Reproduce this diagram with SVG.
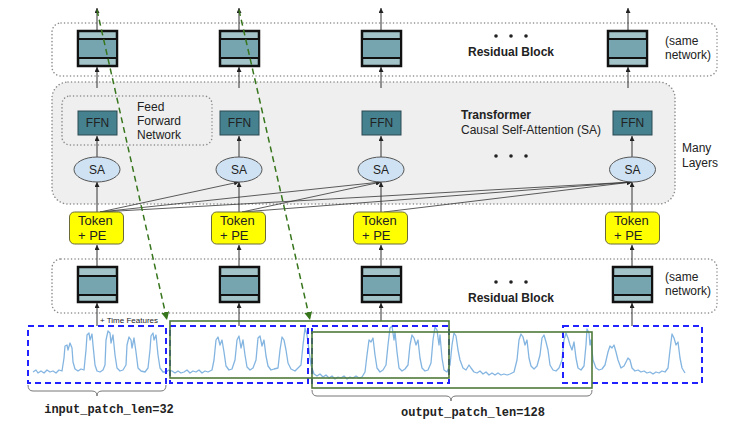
<svg xmlns="http://www.w3.org/2000/svg" width="752" height="425" viewBox="0 0 752 425">
<defs>
<style>
text{font-family:"Liberation Sans",Arial,sans-serif;fill:#222;}
.dot{fill:none;stroke:#8a8a8a;stroke-width:1.5;stroke-dasharray:0.1,3.4;stroke-linecap:round;}
.rl{fill:#a2c4c9;stroke:#111;stroke-width:2.5;}
.rm{fill:#76a5af;stroke:#111;stroke-width:2;}
.ffn{fill:#45818e;stroke:#2a4a52;stroke-width:1;}
.sa{fill:#cfe2f3;stroke:#555;stroke-width:1;}
.tok{fill:#ffff00;stroke:#6b6b3a;stroke-width:1;}
.ar{stroke:#333;stroke-width:1;fill:none;marker-end:url(#ah);}
.at{stroke:#333;stroke-width:0.8;fill:none;marker-end:url(#ah);}
.gd{stroke:#38761d;stroke-width:1.5;stroke-dasharray:6,4;fill:none;marker-end:url(#gh);}
.bp{fill:none;stroke:#2222ff;stroke-width:2;stroke-dasharray:6,4;}
.gr{fill:none;stroke:#4e7a3a;stroke-width:1.6;}
.br{fill:none;stroke:#777;stroke-width:1;}
.t12{font-size:12px;}
.b12{font-size:12px;font-weight:bold;}
.mono{font-family:"Liberation Mono","Courier New",monospace;font-size:12px;font-weight:bold;fill:#222;}
.dots{fill:#222;}
</style>
<marker id="ah" viewBox="0 0 6 6" refX="6" refY="3" markerWidth="5" markerHeight="5" markerUnits="userSpaceOnUse" orient="auto"><path d="M0,0 L6,3 L0,6 Z" fill="#222"/></marker>
<marker id="gh" viewBox="0 0 8 8" refX="8" refY="4" markerWidth="8" markerHeight="8" markerUnits="userSpaceOnUse" orient="auto"><path d="M0,0 L8,4 L0,8 Z" fill="#38761d"/></marker>
</defs>
<rect width="752" height="425" fill="#ffffff"/>

<g id="containers">
<rect id="top-residual-group" class="dot" x="52" y="23" width="665" height="53" rx="9"/>
<rect id="transformer-group" x="52" y="82" width="623" height="122" rx="16" fill="#efefef" stroke="#8a8a8a" stroke-width="1.5" stroke-dasharray="0.1,3.4" stroke-linecap="round"/>
<rect id="ffn-group" class="dot" x="62" y="96" width="150" height="49" rx="8"/>
<rect id="bottom-residual-group" class="dot" x="52" y="259" width="665" height="54" rx="9"/>
</g>

<g id="labels">
<circle class="dots" cx="496" cy="36" r="1.8"/><circle class="dots" cx="511" cy="36" r="1.8"/><circle class="dots" cx="526" cy="36" r="1.8"/>
<text class="b12" x="511" y="56" text-anchor="middle">Residual Block</text>
<text class="t12" x="665" y="45">(same</text>
<text class="t12" x="665" y="59">network)</text>
<text class="t12" x="137" y="111">Feed</text>
<text class="t12" x="137" y="125">Forward</text>
<text class="t12" x="137" y="139">Network</text>
<text class="b12" x="461" y="119">Transformer</text>
<text class="t12" x="461" y="134">Causal Self-Attention (SA)</text>
<circle class="dots" cx="496" cy="156" r="1.8"/><circle class="dots" cx="511" cy="156" r="1.8"/><circle class="dots" cx="526" cy="156" r="1.8"/>
<text class="t12" x="682" y="152">Many</text>
<text class="t12" x="682" y="167">Layers</text>
<circle class="dots" cx="496" cy="282" r="1.8"/><circle class="dots" cx="511" cy="282" r="1.8"/><circle class="dots" cx="526" cy="282" r="1.8"/>
<text class="b12" x="511" y="302" text-anchor="middle">Residual Block</text>
<text class="t12" x="665" y="281">(same</text>
<text class="t12" x="665" y="295">network)</text>
<text x="100" y="323" font-size="8" fill="#444">+ Time Features</text>
</g>

<g id="connectors">
<path class="ar" d="M97,31 L97,8"/>
<path class="ar" d="M239,31 L239,8"/>
<path class="ar" d="M381,31 L381,8"/>
<path class="ar" d="M628,31 L628,8"/>
<path class="ar" d="M97,88 L97,67"/>
<path class="ar" d="M239,88 L239,67"/>
<path class="ar" d="M381,88 L381,67"/>
<path class="ar" d="M628,88 L628,67"/>
<path class="ar" d="M97,157 L97,136"/>
<path class="ar" d="M239,157 L239,136"/>
<path class="ar" d="M381,157 L381,136"/>
<path class="ar" d="M632,157 L632,136"/>
<path class="ar" d="M97,212 L97,182"/>
<path class="ar" d="M239,212 L239,182"/>
<path class="ar" d="M381,212 L381,182"/>
<path class="ar" d="M632,212 L632,182"/>
<path class="at" d="M100,212 L239,182"/>
<path class="at" d="M100,212 L381,182"/>
<path class="at" d="M100,212 L632,182"/>
<path class="at" d="M242,212 L381,182"/>
<path class="at" d="M242,212 L632,182"/>
<path class="at" d="M384,212 L632,182"/>
<path class="ar" d="M97,267 L97,245"/>
<path class="ar" d="M239,267 L239,245"/>
<path class="ar" d="M381,267 L381,245"/>
<path class="ar" d="M632,267 L632,245"/>
<path class="ar" d="M97,326 L97,303"/>
<path class="ar" d="M239,326 L239,303"/>
<path class="ar" d="M381,321 L381,303"/>
<path class="ar" d="M632,326 L632,303"/>
</g>

<g id="top-residual-blocks">
<g id="top-res-1"><rect class="rl" x="78" y="31" width="39" height="35"/><rect class="rm" x="78" y="39" width="39" height="19"/></g>
<g id="top-res-2"><rect class="rl" x="220" y="31" width="39" height="35"/><rect class="rm" x="220" y="39" width="39" height="19"/></g>
<g id="top-res-3"><rect class="rl" x="362" y="31" width="39" height="35"/><rect class="rm" x="362" y="39" width="39" height="19"/></g>
<g id="top-res-4"><rect class="rl" x="608" y="31" width="39" height="35"/><rect class="rm" x="608" y="39" width="39" height="19"/></g>
</g>

<g id="ffn-nodes">
<g id="ffn-1"><rect class="ffn" x="78" y="111" width="39" height="24"/><text class="t12" x="97.5" y="127" text-anchor="middle">FFN</text></g>
<g id="ffn-2"><rect class="ffn" x="220" y="111" width="39" height="24"/><text class="t12" x="239.5" y="127" text-anchor="middle">FFN</text></g>
<g id="ffn-3"><rect class="ffn" x="362" y="111" width="39" height="24"/><text class="t12" x="381.5" y="127" text-anchor="middle">FFN</text></g>
<g id="ffn-4"><rect class="ffn" x="613" y="111" width="39" height="24"/><text class="t12" x="632.5" y="127" text-anchor="middle">FFN</text></g>
</g>

<g id="sa-nodes">
<g id="sa-1"><ellipse class="sa" cx="97" cy="169.5" rx="23" ry="12.5"/><text class="t12" x="97" y="174" text-anchor="middle">SA</text></g>
<g id="sa-2"><ellipse class="sa" cx="239" cy="169.5" rx="23" ry="12.5"/><text class="t12" x="239" y="174" text-anchor="middle">SA</text></g>
<g id="sa-3"><ellipse class="sa" cx="381" cy="169.5" rx="23" ry="12.5"/><text class="t12" x="381" y="174" text-anchor="middle">SA</text></g>
<g id="sa-4"><ellipse class="sa" cx="632.5" cy="169.5" rx="23" ry="12.5"/><text class="t12" x="632.5" y="174" text-anchor="middle">SA</text></g>
</g>

<g id="token-nodes">
<g id="token-1"><rect class="tok" x="69.5" y="212" width="54" height="32" rx="5"/><text x="78" y="225" font-size="13">Token</text><text x="78" y="240" font-size="13">+ PE</text></g>
<g id="token-2"><rect class="tok" x="211.5" y="212" width="54" height="32" rx="5"/><text x="220" y="225" font-size="13">Token</text><text x="220" y="240" font-size="13">+ PE</text></g>
<g id="token-3"><rect class="tok" x="353.5" y="212" width="54" height="32" rx="5"/><text x="362" y="225" font-size="13">Token</text><text x="362" y="240" font-size="13">+ PE</text></g>
<g id="token-4"><rect class="tok" x="605.5" y="212" width="54" height="32" rx="5"/><text x="614" y="225" font-size="13">Token</text><text x="614" y="240" font-size="13">+ PE</text></g>
</g>

<g id="bottom-residual-blocks">
<g id="bot-res-1"><rect class="rl" x="78" y="267" width="39" height="35"/><rect class="rm" x="78" y="276" width="39" height="19"/></g>
<g id="bot-res-2"><rect class="rl" x="220" y="267" width="39" height="35"/><rect class="rm" x="220" y="276" width="39" height="19"/></g>
<g id="bot-res-3"><rect class="rl" x="362" y="267" width="39" height="35"/><rect class="rm" x="362" y="276" width="39" height="19"/></g>
<g id="bot-res-4"><rect class="rl" x="613" y="267" width="39" height="35"/><rect class="rm" x="613" y="276" width="39" height="19"/></g>
</g>

<g id="series">
<path fill="none" stroke="#6fa8dc" stroke-width="1.3" stroke-opacity="0.85" stroke-linejoin="round" d="M33,372 L36,370 L38,373 L41,371 L44,373 L47,370 L50,372 L53,371 L56,373 L59,370 L62,371 L64,358 L65,346 L67,345 L68,350 L70,343 L72,348 L73,362 L75,369 L78,371 L81,369 L84,370 L86,350 L87,335 L89,333 L90,340 L92,334 L93,345 L95,365 L97,371 L100,372 L103,370 L105,365 L106,340 L108,331 L110,333 L111,343 L113,335 L115,355 L117,368 L120,371 L123,370 L126,365 L127,345 L129,337 L131,340 L132,348 L134,338 L136,352 L138,368 L141,371 L145,372 L148,368 L150,350 L151,336 L153,333 L154,340 L156,335 L158,355 L160,368 L163,372 L166,372 L169,370 L172,371 L175,373 L178,371 L181,373 L184,372 L187,370 L190,373 L193,371 L196,372 L199,370 L202,373 L205,371 L208,372 L212,370 L214,360 L216,340 L218,337 L220,345 L222,340 L224,352 L226,366 L229,370 L232,369 L235,360 L237,340 L239,336 L241,348 L243,340 L245,355 L247,367 L250,370 L253,368 L256,360 L258,338 L260,336 L262,346 L264,340 L266,356 L268,366 L271,370 L274,369 L278,368 L280,350 L282,337 L284,340 L286,350 L288,363 L291,369 L295,371 L298,368 L301,365 L303,345 L305,328 L307,335 L309,350 L311,365 L314,374 L317,376 L320,374 L323,377 L326,375 L329,378 L332,376 L335,379 L338,377 L341,378 L344,376 L347,379 L350,377 L353,378 L356,376 L359,378 L362,377 L365,372 L367,355 L369,340 L371,342 L373,338 L375,355 L377,368 L380,372 L383,370 L386,365 L388,345 L390,328 L392,326 L394,340 L395,332 L397,352 L399,368 L402,371 L405,369 L408,365 L410,345 L412,335 L414,338 L416,345 L418,340 L420,358 L422,368 L425,371 L428,370 L431,363 L433,340 L435,327 L437,330 L439,345 L440,335 L442,358 L444,370 L447,372 L450,365 L452,345 L454,333 L456,336 L458,350 L460,360 L463,368 L466,370 L469,365 L471,368 L474,372 L477,373 L480,371 L483,374 L486,372 L489,375 L492,373 L495,375 L498,373 L501,375 L504,374 L507,375 L510,374 L514,372 L517,360 L519,340 L521,334 L523,337 L525,345 L527,340 L529,358 L531,366 L534,369 L537,366 L540,355 L542,338 L544,335 L546,342 L548,350 L550,365 L553,370 L556,371 L559,368 L562,360 L564,340 L566,333 L568,338 L570,345 L572,350 L574,342 L576,358 L578,368 L581,370 L584,366 L586,345 L587,329 L589,333 L590,345 L591,340 L593,360 L596,368 L599,370 L602,369 L605,365 L608,352 L610,346 L612,348 L614,345 L616,352 L618,360 L621,368 L624,366 L626,362 L628,358 L630,360 L632,368 L635,371 L638,370 L641,372 L644,371 L647,373 L650,372 L653,374 L656,372 L659,373 L662,371 L665,372 L668,368 L670,350 L672,334 L674,338 L676,345 L678,342 L680,358 L682,368 L685,373"/>
</g>

<g id="patches">
<rect id="patch-1" class="bp" x="28" y="326" width="138" height="57"/>
<rect id="patch-2" class="bp" x="170" y="326" width="138" height="57"/>
<rect id="patch-3" class="bp" x="312" y="326" width="137" height="57"/>
<rect id="patch-4" class="bp" x="563" y="326" width="139" height="57"/>
<rect id="output-1" class="gr" x="170" y="321" width="279" height="57"/>
<rect id="output-2" class="gr" x="312" y="332" width="280" height="56"/>
</g>

<g id="skip-connectors">
<path class="gd" d="M97,10 L167,320"/>
<path class="gd" d="M239,10 L310,320"/>
</g>

<g id="braces">
<path class="br" d="M28,385 Q28,391 33,391 L92,391 Q97,391 97,396 Q97,391 102,391 L161,391 Q166,391 166,385"/>
<text class="mono" x="109" y="413" text-anchor="middle">input_patch_len=32</text>
<path class="br" d="M312,390 Q312,396 317,396 L446,396 Q451,396 451,401 Q451,396 456,396 L587,396 Q592,396 592,390"/>
<text class="mono" x="473" y="416" text-anchor="middle">output_patch_len=128</text>
</g>
</svg>
